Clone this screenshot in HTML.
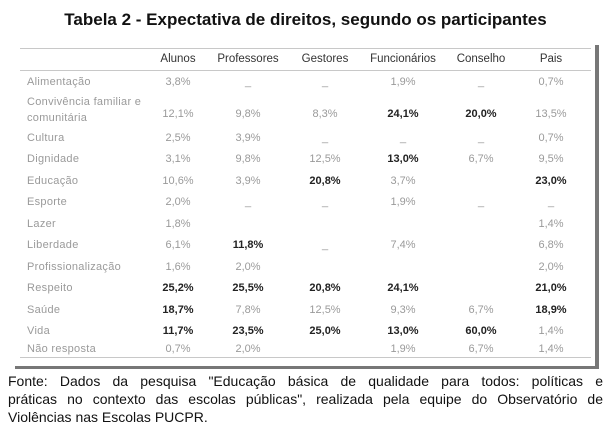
<!DOCTYPE html>
<html><head><meta charset="utf-8"><style>
body{margin:0;width:611px;height:432px;background:#fff;font-family:"Liberation Sans",sans-serif;position:relative;overflow:hidden}
.t{position:absolute;white-space:nowrap}
.title{left:0;width:611px;text-align:center;top:10px;font-size:17px;font-weight:bold;color:#111}
.l{left:27px;font-size:11px;color:#9a9a9a;letter-spacing:0.3px}
.v{font-size:11px;color:#9a9a9a;transform:translateX(-50%)}
.b{color:#222;font-weight:bold}
.h{font-size:11.5px;color:#333;transform:translateX(-50%);top:53px}
.line{position:absolute;left:20px;width:571px;height:1px;background:#c8c8c8}
.fl{position:absolute;left:8px;width:595px;font-size:14px;color:#111;text-align:justify;text-align-last:justify;white-space:nowrap}
</style></head><body>
<div class="t title">Tabela 2 - Expectativa de direitos, segundo os participantes</div>
<div style="position:absolute;left:595px;top:45px;width:4px;height:324px;background:#777"></div>
<div style="position:absolute;left:15px;top:366px;width:584px;height:3px;background:#777"></div>
<div class="line" style="top:48px"></div>
<div class="line" style="top:70px"></div>
<div class="line" style="top:357px"></div>
<div class="t h" style="left:178px">Alunos</div>
<div class="t h" style="left:248px">Professores</div>
<div class="t h" style="left:325px">Gestores</div>
<div class="t h" style="left:403px">Funcionários</div>
<div class="t h" style="left:481px">Conselho</div>
<div class="t h" style="left:551px">Pais</div>
<div id="rows"></div>
<div class="fl" style="top:373px">Fonte: Dados da pesquisa "Educação básica de qualidade para todos: políticas e</div>
<div class="fl" style="top:391px">práticas no contexto das escolas públicas", realizada pela equipe do Observatório de</div>
<div class="fl" style="top:409px;text-align-last:left">Violências nas Escolas PUCPR.</div>
<script>
var cols=[178,248,325,403,481,551];
var rows=[
[76,"Alimentação",["3,8%","_","_","1,9%","_","0,7%"]],
[108,"Convivência familiar e<br>comunitária",["12,1%","9,8%","8,3%","*24,1%","*20,0%","13,5%"]],
[132,"Cultura",["2,5%","3,9%","_","_","_","0,7%"]],
[153,"Dignidade",["3,1%","9,8%","12,5%","*13,0%","6,7%","9,5%"]],
[175,"Educação",["10,6%","3,9%","*20,8%","3,7%","","*23,0%"]],
[196,"Esporte",["2,0%","_","_","1,9%","_","_"]],
[218,"Lazer",["1,8%","","","","","1,4%"]],
[239,"Liberdade",["6,1%","*11,8%","_","7,4%","","6,8%"]],
[261,"Profissionalização",["1,6%","2,0%","","","","2,0%"]],
[282,"Respeito",["*25,2%","*25,5%","*20,8%","*24,1%","","*21,0%"]],
[304,"Saúde",["*18,7%","7,8%","12,5%","9,3%","6,7%","*18,9%"]],
[325,"Vida",["*11,7%","*23,5%","*25,0%","*13,0%","*60,0%","1,4%"]],
[343,"Não resposta",["0,7%","2,0%","","1,9%","6,7%","1,4%"]]];
var h="";
rows.forEach(function(r){
 var two=r[1].indexOf("<br>")>=0;
 h+='<div class="t l" style="top:'+(two?r[0]-14:r[0])+'px;line-height:'+(two?'16px':'normal')+'">'+r[1]+'</div>';
 r[2].forEach(function(v,i){if(!v)return;var b=v[0]=="*";if(b)v=v.slice(1);
 h+='<div class="t v'+(b?' b':'')+'" style="left:'+cols[i]+'px;top:'+r[0]+'px">'+v+'</div>';});
});
document.getElementById("rows").innerHTML=h;
</script>
</body></html>
